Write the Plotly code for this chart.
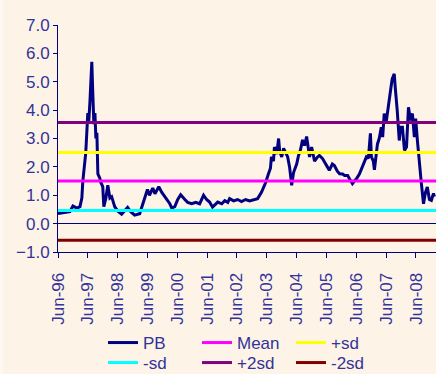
import plotly.graph_objects as go

# PB series
pb_dates = [
    "1996-06-01", "1996-08-13", "1996-10-25", "1996-12-01", "1997-01-20", "1997-02-25",
    "1997-03-20", "1997-04-01", "1997-04-25", "1997-05-07", "1997-06-01", "1997-06-13",
    "1997-06-27", "1997-07-20", "1997-08-01", "1997-08-14", "1997-08-27", "1997-09-08",
    "1997-09-20", "1997-10-02", "1997-10-26", "1997-11-07", "1997-12-01", "1997-12-14",
    "1998-01-08", "1998-02-01", "1998-02-26", "1998-03-20", "1998-04-26", "1998-06-01",
    "1998-07-20", "1998-08-26", "1998-10-01", "1998-11-08", "1998-12-26", "1999-02-26",
    "1999-04-26", "1999-06-01", "1999-06-26", "1999-08-05", "1999-09-01", "1999-09-25",
    "1999-10-18", "1999-11-24", "2000-01-01", "2000-01-25", "2000-03-01", "2000-03-25",
    "2000-05-01", "2000-06-06", "2000-07-12", "2000-09-01", "2000-10-06", "2000-11-25",
    "2001-01-12", "2001-03-01", "2001-03-25", "2001-04-18", "2001-05-25", "2001-07-01",
    "2001-08-06", "2001-09-15", "2001-10-09", "2001-11-27", "2002-01-03", "2002-02-09",
    "2002-03-03", "2002-04-21", "2002-06-09", "2002-07-27", "2002-09-15", "2002-11-03",
    "2002-12-21", "2003-02-09", "2003-03-28", "2003-05-16", "2003-06-22", "2003-07-16",
    "2003-07-28", "2003-08-22", "2003-09-03", "2003-10-01", "2003-10-24", "2003-11-06",
    "2003-12-01", "2003-12-24", "2004-01-18", "2004-02-12", "2004-03-06", "2004-04-01",
    "2004-04-24", "2004-06-01", "2004-06-24", "2004-07-18", "2004-08-12", "2004-09-06",
    "2004-10-01", "2004-10-24", "2004-11-06", "2004-12-01", "2005-01-06", "2005-02-12",
    "2005-03-06", "2005-04-12", "2005-05-06", "2005-06-12", "2005-07-06", "2005-08-12",
    "2005-09-06", "2005-10-12", "2005-11-09", "2005-12-15", "2006-01-09", "2006-02-15",
    "2006-03-09", "2006-04-15", "2006-05-09", "2006-06-03", "2006-07-09", "2006-08-03",
    "2006-09-09", "2006-10-03", "2006-10-27", "2006-11-21", "2006-12-03", "2006-12-27",
    "2007-01-09", "2007-02-03", "2007-02-15", "2007-03-09", "2007-04-03", "2007-04-20",
    "2007-05-09", "2007-06-03", "2007-07-09", "2007-08-03", "2007-08-15", "2007-09-09",
    "2007-09-21", "2007-10-03", "2007-10-15", "2007-11-09", "2007-11-24", "2007-12-18",
    "2008-01-12", "2008-02-06", "2008-03-01", "2008-03-25", "2008-04-18", "2008-05-12",
    "2008-05-28", "2008-06-18", "2008-07-12", "2008-08-06", "2008-09-01", "2008-09-25",
    "2008-10-18", "2008-11-12", "2008-12-06", "2009-01-01", "2009-01-13",
]
pb_values = [
    0.36, 0.38, 0.42, 0.62, 0.55, 0.60,
    0.90, 1.50, 2.10, 2.50, 3.90, 3.60,
    4.30, 5.70, 4.60, 3.50, 3.90, 3.00,
    3.20, 1.75, 1.60, 1.45, 1.30, 0.60,
    0.90, 1.35, 0.90, 0.95, 0.60, 0.45,
    0.33, 0.45, 0.57, 0.42, 0.30, 0.35,
    0.85, 1.20, 1.00, 1.25, 1.05, 1.20,
    1.30, 1.10, 0.95, 0.85, 0.70, 0.55,
    0.60, 0.85, 1.02, 0.85, 0.75, 0.70,
    0.75, 0.70, 0.85, 1.00, 0.85, 0.76,
    0.58, 0.70, 0.76, 0.70, 0.81, 0.75,
    0.88, 0.80, 0.85, 0.78, 0.85, 0.80,
    0.85, 0.88, 1.10, 1.43, 1.76, 1.95,
    2.35, 2.20, 2.70, 2.45, 3.00, 2.55,
    2.35, 2.65, 2.50, 2.35, 2.00, 1.35,
    1.80, 2.10, 2.40, 2.60, 2.95, 2.75,
    3.07, 2.60, 2.35, 2.70, 2.20, 2.35,
    2.40, 2.30, 2.20, 2.00, 1.88, 2.10,
    2.05, 1.85, 1.76, 1.75, 1.70, 1.70,
    1.58, 1.41, 1.50, 1.58, 1.75, 1.94,
    2.15, 2.35, 2.30, 3.18, 2.35, 2.20,
    1.90, 2.40, 2.80, 3.00, 3.40, 3.05,
    3.88, 3.60, 4.46, 4.87, 5.10, 5.28,
    4.80, 4.23, 4.00, 2.93, 3.40, 3.40,
    2.58, 2.70, 4.10, 3.64, 3.88, 3.05,
    3.70, 2.93, 2.10, 1.41, 0.70, 1.10,
    1.29, 0.85, 0.82, 1.06, 0.95,
]

# Reference levels
mean_level = 1.50
plus_sd_level = 2.51
minus_sd_level = 0.46
plus_2sd_level = 3.56
minus_2sd_level = -0.59

tick_dates = ["%d-06-01" % y for y in range(1996, 2009)]
tick_labels = ["Jun-%02d" % (y % 100) for y in range(1996, 2009)]

x_start = "1996-06-01"
x_end = "2009-02-01"

navy = "#000080"
text_col = "#333399"
bg = "#FDF3E7"
font_family = "Arial, Liberation Sans, sans-serif"

fig = go.Figure()
fig.add_trace(go.Scatter(x=pb_dates, y=pb_values, mode="lines", name="PB",
                         line=dict(color=navy, width=3), legend="legend"))

levels = [
    ("Mean", mean_level, "#FF00FF", "legend"),
    ("+sd", plus_sd_level, "#FFFF00", "legend"),
    ("-sd", minus_sd_level, "#00FFFF", "legend2"),
    ("+2sd", plus_2sd_level, "#800080", "legend2"),
    ("-2sd", minus_2sd_level, "#800000", "legend2"),
]
for name, val, col, lg in levels:
    fig.add_trace(go.Scatter(x=[x_start, x_end], y=[val, val], mode="lines", name=name,
                             line=dict(color=col, width=3), legend=lg))

legend_common = dict(orientation="h", xref="container", yref="container",
                     x=103 / 436, xanchor="left", yanchor="top",
                     entrywidth=49, entrywidthmode="pixels",
                     bgcolor="rgba(0,0,0,0)", font=dict(size=17, color=text_col),
                     itemwidth=30)

fig.update_layout(
    width=436, height=374,
    margin=dict(l=58, r=0, t=25, b=122, autoexpand=False),
    paper_bgcolor=bg, plot_bgcolor=bg,
    font=dict(family=font_family, size=17, color=text_col),
    showlegend=True,
    legend=dict(y=1 - 325 / 374, **legend_common),
    legend2=dict(y=1 - 345 / 374, **legend_common),
    shapes=[dict(type="rect", xref="paper", yref="paper",
                 x0=-58 / 378, x1=-55 / 378, y0=-122 / 227, y1=1 + 25 / 227,
                 fillcolor="#FEF8F1", line=dict(width=0), layer="below")],
)
fig.update_xaxes(type="date", range=[x_start, x_end], tickmode="array",
                 tickvals=tick_dates, ticktext=tick_labels, tickangle=-90,
                 showline=True, linecolor=navy, linewidth=1, ticks="outside",
                 ticklen=5, tickcolor=navy, showgrid=False, zeroline=False,
                 automargin=False,
                 ticklabelstandoff=8, tickfont=dict(size=17, color=text_col))
fig.update_yaxes(range=[-1, 7], dtick=1, tick0=0, tickformat=".1f",
                 showline=True, linecolor=navy, linewidth=1, ticks="outside",
                 ticklen=4, tickcolor=navy, showgrid=False, automargin=False,
                 zeroline=True, zerolinecolor=navy, zerolinewidth=1,
                 tickfont=dict(size=17, color=text_col))

fig.write_html("out.html", config={"displayModeBar": False},
               post_script="document.body.style.margin='0';")
